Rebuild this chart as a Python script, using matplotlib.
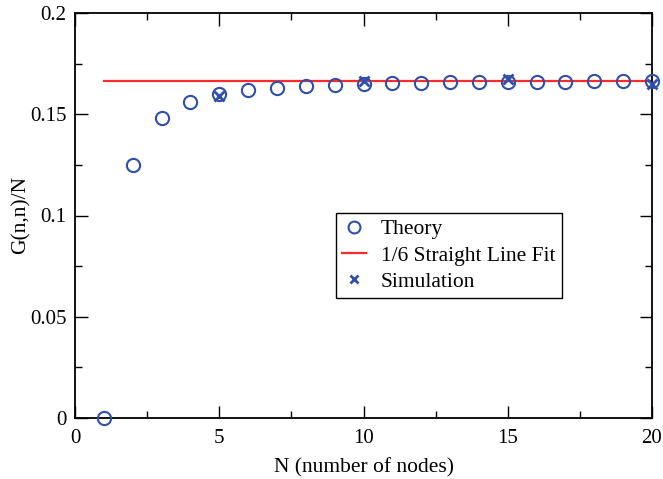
import matplotlib
matplotlib.use("Agg")
import matplotlib.pyplot as plt
from matplotlib.ticker import MultipleLocator

plt.rcParams['font.family'] = ['Liberation Serif', 'DejaVu Serif']

n_theory = [1, 2, 3, 4, 5, 6, 7, 8, 9, 10, 11, 12, 13, 14, 15, 16, 17, 18, 19, 20]
g_theory = [0.0, 0.125, 0.148, 0.156, 0.160, 0.162, 0.163, 0.164, 0.1646, 0.165,
            0.1653, 0.1655, 0.1657, 0.1658, 0.1659, 0.1660, 0.1661, 0.1662, 0.1662, 0.1663]
fit_x = [1, 20]
fit_y = [1/6, 1/6]
n_sim = [5, 10, 15, 20]
g_sim = [0.159, 0.1663, 0.1672, 0.165]

blue = '#2f4fa8'
red = '#ff2a2a'

fig = plt.figure(figsize=(6.63, 4.79), dpi=100)
ax = fig.add_axes([75/663, 1-418/479, 577/663, 405/479])

ax.plot(n_theory, g_theory, linestyle='none', marker='o', markersize=9.5,
        markerfacecolor='none', markeredgecolor=blue, markeredgewidth=1.5,
        label='Theory', zorder=3, clip_on=False)
ax.plot(fit_x, fit_y, color=red, linewidth=1.6, label='1/6 Straight Line Fit', zorder=2)
ax.plot(n_sim, g_sim, linestyle='none', marker='x', markersize=7,
        color=blue, markeredgewidth=2, label='Simulation', zorder=4, clip_on=False)

ax.set_xlim(0, 20)
ax.set_ylim(0, 0.2)
ax.set_xticks([0, 5, 10, 15, 20])
ax.set_xticklabels(['0', '5', '10', '15', '20'])
ax.set_yticks([0, 0.05, 0.1, 0.15, 0.2])
ax.set_yticklabels(['0', '0.05', '0.1', '0.15', '0.2'])
ax.xaxis.set_minor_locator(MultipleLocator(2.5))
ax.yaxis.set_minor_locator(MultipleLocator(0.025))
ax.tick_params(which='both', direction='in', top=True, right=True, labelsize=15, width=1)
ax.tick_params(which='major', length=9)
ax.tick_params(axis='x', which='major', pad=8)
ax.tick_params(axis='y', which='major', pad=6)
ax.tick_params(which='minor', length=5)
for s in ax.spines.values():
    s.set_linewidth(1.3)

ax.set_xlabel('N (number of nodes)', fontsize=15.5, labelpad=7)
ax.set_ylabel('G(n,n)/N', fontsize=15.5, labelpad=0)

leg = ax.legend(loc='lower left', bbox_to_anchor=(0.452, 0.296), fontsize=15.5,
                frameon=True, fancybox=False, edgecolor='black', framealpha=1,
                handlelength=1.1, handletextpad=0.7, borderpad=0.3, labelspacing=0.28,
                borderaxespad=0, markerscale=0.9)
leg.get_frame().set_linewidth(1.0)

fig.savefig('out.png', dpi=100)
